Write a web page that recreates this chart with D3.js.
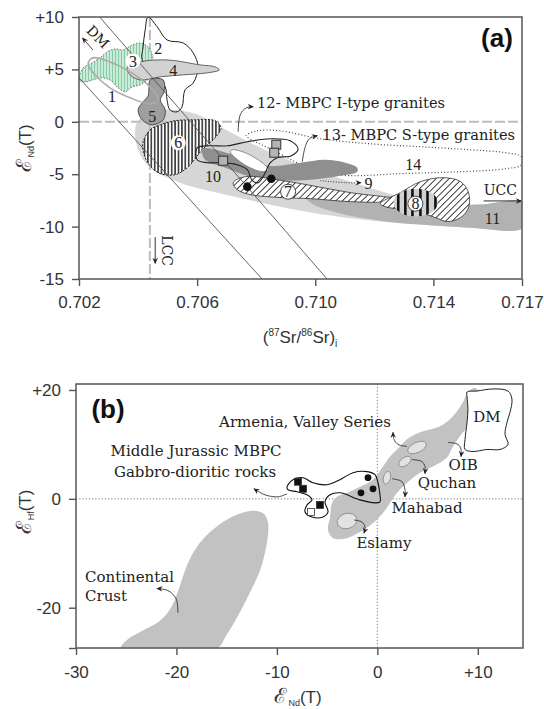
<!DOCTYPE html>
<html>
<head>
<meta charset="utf-8">
<script src="https://cdn.jsdelivr.net/npm/d3@7"></script>
<style>
  body { margin: 0; background: #fff; }
  svg { display: block; }
</style>
</head>
<body>
<svg id="chart" width="544" height="709"></svg>
<script>
// ---------------- Panel (a): εNd(T) vs initial 87Sr/86Sr ----------------
const srTicks = [0.702, 0.706, 0.710, 0.714, 0.717];
const ndTicksA = [10, 5, 0, -5, -10, -15];
const bulkEarthSr = 0.7044;
const mantleLines = [
  [[0.7027, 10], [0.7104, -15]],
  [[0.7020, 4.2], [0.7082, -15]]
];

const greenField = [[0.7020,4.19],[0.70214,5.14],[0.70244,5.62],[0.70271,6.10],[0.70295,6.67],[0.70322,6.95],[0.70349,6.86],[0.70380,7.33],[0.70407,7.52],[0.70434,7.14],[0.70448,6.38],[0.70451,5.43],[0.70441,4.29],[0.70407,3.52],[0.70380,3.33],[0.70356,2.86],[0.70332,3.24],[0.70305,4.0],[0.70271,4.19],[0.70247,4.0],[0.70220,3.81],[0.7020,4.0]];
const field1 = [[0.70247,6.10],[0.70305,5.71],[0.70373,4.76],[0.70441,3.33],[0.70468,2.10],[0.70441,1.71],[0.70373,2.29],[0.70305,3.24],[0.70254,4.48],[0.70231,5.52]];
const field2 = [[0.70434,10.0],[0.70465,9.05],[0.70498,7.81],[0.70553,7.52],[0.70587,6.57],[0.70603,5.24],[0.70587,3.71],[0.70559,3.05],[0.70549,1.43],[0.70532,0.95],[0.70508,1.14],[0.70498,2.10],[0.70492,3.33],[0.70458,4.48],[0.70414,5.90],[0.70417,7.14],[0.70424,8.76]];
const field4 = [[0.70363,5.14],[0.70407,5.71],[0.70498,5.90],[0.70610,5.43],[0.70661,5.24],[0.70675,4.95],[0.70634,4.67],[0.70553,4.48],[0.70475,4.29],[0.70407,4.0],[0.70373,4.48]];
const field5 = [[0.70441,4.0],[0.70485,4.0],[0.70488,2.86],[0.70475,2.10],[0.70492,1.14],[0.70485,0.19],[0.70448,-0.29],[0.70414,0.19],[0.70400,1.14],[0.70417,1.90],[0.70434,2.48],[0.70437,3.24]];
const field6 = [[0.70417,-1.90],[0.70441,-0.76],[0.70475,-0.29],[0.70525,0.10],[0.70593,0.19],[0.70661,0.10],[0.70681,-0.57],[0.70661,-1.52],[0.70617,-2.67],[0.70570,-4.29],[0.70525,-5.05],[0.70468,-4.86],[0.70431,-3.81],[0.70417,-2.67]];
const field7 = [[0.70722,-5.81],[0.70763,-5.24],[0.70891,-5.62],[0.71007,-6.19],[0.71119,-6.76],[0.71231,-7.14],[0.71281,-7.33],[0.71244,-7.62],[0.71119,-7.62],[0.70983,-7.33],[0.70891,-7.24],[0.70780,-6.95],[0.70736,-6.48]];
const field8 = [[0.71220,-7.81],[0.71288,-6.76],[0.71356,-5.71],[0.71434,-5.33],[0.71492,-5.71],[0.71519,-6.76],[0.71519,-8.19],[0.71492,-9.14],[0.71448,-9.52],[0.71407,-9.14],[0.71356,-8.67],[0.71298,-8.38],[0.71237,-8.10]];
const field8Core = { x: 0.7134, y: -7.71, rx: 0.00075, ry: 1.33 };
const field8Bars = [0.71281, 0.71305, 0.71329, 0.71356, 0.71380, 0.71407];
const field10 = [[0.70617,-2.57],[0.70746,-3.33],[0.70841,-4.19],[0.70949,-3.90],[0.71034,-3.62],[0.71102,-3.90],[0.71142,-4.38],[0.71142,-4.76],[0.71085,-5.14],[0.70983,-5.52],[0.70881,-5.62],[0.70780,-5.24],[0.70695,-4.38],[0.70627,-3.62]];
const field10Lens = [[0.70719,-2.67],[0.70763,-2.95],[0.70820,-3.90],[0.70841,-4.57],[0.70820,-4.76],[0.70773,-4.29],[0.70729,-3.43],[0.70712,-2.86]];
const field11 = [[0.70393,-0.29],[0.70424,0.67],[0.70492,1.14],[0.70593,0.76],[0.70685,-0.57],[0.70780,-2.0],[0.70881,-3.33],[0.71017,-4.76],[0.71153,-6.0],[0.71288,-7.14],[0.71424,-7.81],[0.71559,-7.90],[0.71705,-7.71],[0.71705,-10.1],[0.71525,-10.1],[0.71356,-9.81],[0.71220,-9.52],[0.71051,-8.95],[0.70881,-8.10],[0.70712,-7.05],[0.70542,-5.81],[0.70441,-4.38],[0.70400,-2.67]];
const field11Core = [[0.70949,-6.48],[0.71085,-7.24],[0.71254,-7.90],[0.71424,-8.10],[0.71559,-7.90],[0.71705,-7.71],[0.71705,-10.1],[0.71525,-10.1],[0.71356,-9.81],[0.71220,-9.43],[0.71085,-8.76],[0.70983,-7.71]];
const field12 = [[0.70600,-2.48],[0.70644,-2.29],[0.70702,-2.29],[0.70770,-1.90],[0.70848,-1.62],[0.70915,-1.81],[0.70942,-2.57],[0.70919,-3.24],[0.70871,-3.43],[0.70848,-3.90],[0.70827,-5.05],[0.70807,-5.81],[0.70787,-5.62],[0.70770,-4.57],[0.70736,-4.10],[0.70688,-3.90],[0.70634,-3.90],[0.70600,-3.62]];
const field14 = [[0.70766,-1.33],[0.70803,-0.86],[0.70881,-0.86],[0.71017,-1.62],[0.71186,-2.10],[0.71356,-2.38],[0.71525,-2.67],[0.71644,-2.95],[0.71698,-3.33],[0.71698,-4.10],[0.71644,-4.48],[0.71492,-4.76],[0.71288,-4.95],[0.71119,-5.14],[0.71017,-4.86],[0.70932,-3.81],[0.70854,-2.67],[0.70797,-1.90]];

const squaresA = [[0.70688,-3.71],[0.70868,-2.19],[0.70861,-2.95]];
const dotsA = [[0.70770,-6.19],[0.70851,-5.43]];

const labelsA = [
  { t: "1", x: 0.70312, y: 2.38, ring: 0 },
  { t: "2", x: 0.70468, y: 7.05, ring: 0 },
  { t: "3", x: 0.70383, y: 5.81, ring: 1 },
  { t: "4", x: 0.70519, y: 4.86, ring: 0 },
  { t: "5", x: 0.70448, y: 0.48, ring: 0 },
  { t: "6", x: 0.70536, y: -2.0, ring: 1 },
  { t: "7", x: 0.70908, y: -6.67, ring: 2 },
  { t: "8", x: 0.71339, y: -7.81, ring: 2 },
  { t: "10", x: 0.70654, y: -5.24, ring: 0 },
  { t: "11", x: 0.71600, y: -9.24, ring: 0 },
  { t: "14", x: 0.71332, y: -4.10, ring: 0 },
  { t: "9", x: 0.71180, y: -5.90, ring: 0 }
];
const notesA = [
  { t: "12- MBPC I-type granites", x: 0.70803, y: 1.33 },
  { t: "13- MBPC S-type granites", x: 0.71024, y: -1.71 }
];
const arrowsA = [
  [[0.70739,-0.95],[0.70746,0.67],[0.70766,1.33],[0.70790,1.43]],
  [[0.70956,-3.81],[0.70966,-2.38],[0.70980,-1.62],[0.71007,-1.33]]
];
const arrow9 = [[0.71017,-5.62],[0.71102,-5.81],[0.71155,-5.81]];

// ---------------- Panel (b): εHf(T) vs εNd(T) ----------------
const ndTicksB = [-30, -20, -10, 0, 10];
const hfTicksB = [20, 0, -20, -27.4];

const mantleArray = [[9.72,20.37],[10.22,19.26],[9.92,15.19],[8.53,12.22],[7.53,9.63],[6.93,7.59],[5.54,5.93],[4.25,4.81],[2.95,2.96],[1.96,1.11],[1.26,-0.74],[0.56,-2.59],[-0.43,-4.44],[-1.73,-6.11],[-3.02,-7.22],[-4.42,-7.22],[-4.91,-5.74],[-4.71,-3.33],[-4.51,-0.74],[-4.02,0.37],[-3.02,1.11],[-1.73,2.22],[-0.43,3.52],[0.56,5.93],[1.26,7.78],[2.26,9.63],[2.95,10.93],[4.25,12.22],[6.24,13.33],[7.53,15.19],[8.53,17.78],[9.02,19.63]];
const dmField = [[8.93,19.63],[9.92,19.81],[11.51,20.19],[13.01,19.81],[13.40,18.33],[13.21,15.93],[12.91,14.07],[12.71,11.85],[13.01,10.0],[12.21,9.07],[10.92,9.07],[9.52,8.70],[8.73,9.07],[8.73,10.93],[8.93,14.07],[9.02,16.48],[8.93,18.70]];
const crustField = [[-11.98,-2.22],[-11.28,-2.78],[-10.89,-4.26],[-10.89,-6.67],[-11.18,-9.81],[-11.68,-13.15],[-12.68,-17.22],[-13.87,-21.48],[-15.07,-25.19],[-15.96,-27.4],[-25.52,-27.4],[-24.82,-25.74],[-23.43,-24.26],[-21.64,-22.41],[-20.44,-19.63],[-19.65,-15.93],[-18.95,-12.22],[-18.05,-9.07],[-16.66,-6.11],[-14.87,-3.70],[-13.18,-2.41]];
const mbpcField = [[-8.99,2.22],[-8.40,3.52],[-7.40,3.89],[-6.41,2.96],[-5.01,2.59],[-3.72,3.52],[-2.42,4.81],[-1.03,5.0],[-0.23,4.44],[0.06,2.96],[0.26,0.74],[0.26,-0.56],[-0.23,-0.74],[-1.73,-0.19],[-3.72,1.11],[-4.71,0.74],[-5.21,-0.56],[-4.91,-2.41],[-5.41,-3.33],[-6.51,-3.33],[-7.20,-2.41],[-7.00,-1.11],[-6.51,-0.19],[-7.00,0.74],[-8.0,1.30],[-8.89,1.67]];
const localFields = [
  { name: "Armenia", x: 3.95, y: 9.44, rx: 1.0, ry: 0.93, rot: -25 },
  { name: "Quchan", x: 2.75, y: 6.85, rx: 0.7, ry: 0.74, rot: -35 },
  { name: "Mahabad", x: 0.96, y: 3.89, rx: 0.35, ry: 1.2, rot: 15 },
  { name: "Eslamy", x: -3.02, y: -4.07, rx: 1.0, ry: 1.39, rot: -15 }
];
const squaresB = [
  { x: -7.90, y: 3.15, open: false },
  { x: -7.40, y: 1.85, open: false },
  { x: -5.71, y: -1.11, open: false },
  { x: -6.61, y: -2.41, open: true }
];
const dotsB = [[-0.93,3.89],[-0.43,1.85],[-1.63,1.11]];
const notesB = [
  { t: "Armenia, Valley Series", x: -7.20, y: 13.15, anchor: "middle" },
  { t: "OIB", x: 8.53, y: 5.37, anchor: "middle" },
  { t: "Quchan", x: 6.93, y: 2.04, anchor: "middle" },
  { t: "Mahabad", x: 4.94, y: -2.59, anchor: "middle" },
  { t: "Eslamy", x: 0.66, y: -9.07, anchor: "middle" },
  { t: "Middle Jurassic MBPC", x: -18.05, y: 7.96, anchor: "middle" },
  { t: "Gabbro-dioritic rocks", x: -18.15, y: 4.07, anchor: "middle" },
  { t: "Continental", x: -29.10, y: -15.19, anchor: "start" },
  { t: "Crust", x: -29.10, y: -18.70, anchor: "start" },
  { t: "DM", x: 10.92, y: 14.07, anchor: "middle" }
];
const arrowsB = [
  [[2.95,9.63],[2.06,10.0],[1.66,10.93],[1.56,12.22]],
  [[7.03,10.37],[8.03,10.0],[8.33,9.07],[8.33,7.78]],
  [[3.45,7.22],[4.44,6.85],[4.74,5.93],[4.74,4.63]],
  [[1.46,3.70],[2.45,3.15],[2.75,1.67],[2.75,0.37]],
  [[-2.32,-3.89],[-1.53,-4.26],[-1.23,-5.19],[-1.33,-6.30]],
  [[-8.99,0.93],[-9.89,0.37],[-11.18,0.74],[-12.28,1.85]],
  [[-19.85,-20.93],[-20.04,-18.33],[-20.84,-16.85],[-21.94,-16.48]]
];

// ---------------- Drawing ----------------
const svg = d3.select("#chart");
const TICK_FONT = "'Liberation Sans', Arial, sans-serif";
const NOTE_FONT = "'DejaVu Serif', serif";
const NUM_FONT = "'Liberation Serif', serif";
const INK = "#333";

const xA = d3.scaleLinear().domain([0.702, 0.717]).range([79, 522]);
const yA = d3.scaleLinear().domain([-15, 10]).range([279, 17]);
const xB = d3.scaleLinear().domain([-30, 14.5]).range([76, 523]);
const yB = d3.scaleLinear().domain([-27.4, 21.1]).range([648, 384]);

const defs = svg.append("defs");

function stripes(id, w, bg, stroke, sw, angle) {
  const p = defs.append("pattern").attr("id", id)
    .attr("patternUnits", "userSpaceOnUse")
    .attr("width", w).attr("height", 10);
  if (angle) p.attr("patternTransform", `rotate(${angle})`);
  p.append("rect").attr("width", w).attr("height", 10).attr("fill", bg);
  p.append("line").attr("x1", w / 2).attr("x2", w / 2).attr("y1", -1).attr("y2", 11)
    .attr("stroke", stroke).attr("stroke-width", sw);
}
stripes("vstripe", 3.4, "#fff", "#1a1a1a", 1.4, 0);
stripes("greenstripe", 3, "#cdeedb", "#86cba4", 1.1, 0);
stripes("diag", 4.6, "#fff", "#222", 0.9, 45);

defs.append("marker").attr("id", "arrow")
  .attr("viewBox", "0 0 10 10").attr("refX", 8).attr("refY", 5)
  .attr("markerUnits", "userSpaceOnUse").attr("markerWidth", 7).attr("markerHeight", 7)
  .attr("orient", "auto")
  .append("path").attr("d", "M0,1 L9,5 L0,9 L3,5 z").attr("fill", "#222");

defs.append("clipPath").attr("id", "clipA").append("rect")
  .attr("x", 79).attr("y", 17).attr("width", 443).attr("height", 262);
defs.append("clipPath").attr("id", "clipB").append("rect")
  .attr("x", 76).attr("y", 384).attr("width", 447).attr("height", 264);

const signed = d => d > 0 ? "+" + d : String(d);

function closedPath(sx, sy, curve) {
  return d3.line().x(d => sx(d[0])).y(d => sy(d[1]))
    .curve(curve || d3.curveCatmullRomClosed.alpha(0.5));
}
function openPath(sx, sy) {
  return d3.line().x(d => sx(d[0])).y(d => sy(d[1])).curve(d3.curveCatmullRom.alpha(0.5));
}

// ===== Panel (a) =====
const gA = svg.append("g");
const plotA = gA.append("g").attr("clip-path", "url(#clipA)");
const shapeA = closedPath(xA, yA);

plotA.append("path").attr("d", shapeA(field11)).attr("fill", "#d6d6d6");
plotA.append("path").attr("d", shapeA(field11Core)).attr("fill", "#b2b2b2");

// reference lines: CHUR and bulk earth
plotA.append("line").attr("x1", xA(0.702)).attr("x2", xA(0.717)).attr("y1", yA(0)).attr("y2", yA(0))
  .attr("stroke", "#bdbdbd").attr("stroke-width", 2).attr("stroke-dasharray", "10 3");
plotA.append("line").attr("x1", xA(bulkEarthSr)).attr("x2", xA(bulkEarthSr)).attr("y1", yA(10)).attr("y2", yA(-15))
  .attr("stroke", "#bdbdbd").attr("stroke-width", 2).attr("stroke-dasharray", "10 3");

plotA.append("path").attr("d", shapeA(greenField)).attr("fill", "url(#greenstripe)")
  .attr("stroke", "#666").attr("stroke-width", 0.9).attr("stroke-dasharray", "1.5 1.5");
plotA.append("path").attr("d", shapeA(field2)).attr("fill", "none").attr("stroke", "#222").attr("stroke-width", 1);
plotA.append("path").attr("d", shapeA(field4)).attr("fill", "#d2d2d2").attr("stroke", "#555").attr("stroke-width", 0.9);
plotA.append("path").attr("d", shapeA(field5)).attr("fill", "#9e9e9e").attr("stroke", "#444").attr("stroke-width", 0.9);
plotA.append("path").attr("d", shapeA(field1)).attr("fill", "none").attr("stroke", "#aaa").attr("stroke-width", 1.6);
plotA.append("path").attr("d", shapeA(field6)).attr("fill", "url(#vstripe)")
  .attr("stroke", "#222").attr("stroke-width", 1).attr("stroke-dasharray", "2 1.5");
plotA.append("path").attr("d", shapeA(field14)).attr("fill", "none")
  .attr("stroke", "#444").attr("stroke-width", 1.2).attr("stroke-dasharray", "1 2.2");
plotA.append("path").attr("d", shapeA(field10)).attr("fill", "#8f8f8f");
plotA.append("path").attr("d", shapeA(field10Lens)).attr("fill", "#fff").attr("stroke", "#777").attr("stroke-width", 0.8);
plotA.append("path").attr("d", shapeA(field7)).attr("fill", "url(#diag)").attr("stroke", "#333").attr("stroke-width", 0.8);
plotA.append("path").attr("d", shapeA(field8)).attr("fill", "url(#diag)").attr("stroke", "#333").attr("stroke-width", 0.8);

// core of field 8: grey ellipse with heavy vertical bars
const c8 = {
  cx: xA(field8Core.x), cy: yA(field8Core.y),
  rx: xA(field8Core.x + field8Core.rx) - xA(field8Core.x),
  ry: yA(field8Core.y) - yA(field8Core.y + field8Core.ry)
};
defs.append("clipPath").attr("id", "clip8").append("ellipse")
  .attr("cx", c8.cx).attr("cy", c8.cy).attr("rx", c8.rx).attr("ry", c8.ry);
plotA.append("ellipse").attr("cx", c8.cx).attr("cy", c8.cy).attr("rx", c8.rx).attr("ry", c8.ry).attr("fill", "#d0d0d0");
plotA.append("g").attr("clip-path", "url(#clip8)").selectAll("line").data(field8Bars).join("line")
  .attr("x1", d => xA(d)).attr("x2", d => xA(d))
  .attr("y1", c8.cy - c8.ry).attr("y2", c8.cy + c8.ry)
  .attr("stroke", "#111").attr("stroke-width", 2.6);

plotA.append("path").attr("d", shapeA(field12)).attr("fill", "none").attr("stroke", "#222").attr("stroke-width", 1.1);

// mixing lines
mantleLines.forEach(l => {
  plotA.append("line").attr("x1", xA(l[0][0])).attr("y1", yA(l[0][1]))
    .attr("x2", xA(l[1][0])).attr("y2", yA(l[1][1]))
    .attr("stroke", "#555").attr("stroke-width", 0.9);
});

// samples
plotA.selectAll("rect.sq").data(squaresA).join("rect").attr("class", "sq")
  .attr("x", d => xA(d[0]) - 4.5).attr("y", d => yA(d[1]) - 4.5).attr("width", 9).attr("height", 9)
  .attr("fill", "#b4b4b4").attr("stroke", "#333").attr("stroke-width", 1);
plotA.selectAll("circle.dot").data(dotsA).join("circle").attr("class", "dot")
  .attr("cx", d => xA(d[0])).attr("cy", d => yA(d[1])).attr("r", 4.3).attr("fill", "#111");

// field numbers
labelsA.forEach(d => {
  const px = xA(d.x), py = yA(d.y);
  if (d.ring) {
    gA.append("circle").attr("cx", px).attr("cy", py).attr("r", 7.5)
      .attr("fill", "#fff").attr("stroke", d.ring === 2 ? "#333" : "none").attr("stroke-width", 0.9);
  }
  gA.append("text").attr("x", px).attr("y", py).attr("dy", "0.35em")
    .attr("text-anchor", "middle").attr("font-family", NUM_FONT).attr("font-size", 16)
    .attr("fill", "#222").text(d.t);
});

// annotations
notesA.forEach(d => {
  gA.append("text").attr("x", xA(d.x)).attr("y", yA(d.y))
    .attr("font-family", NOTE_FONT).attr("font-size", 14.6).attr("fill", "#222").text(d.t);
});
arrowsA.forEach(a => {
  gA.append("path").attr("d", openPath(xA, yA)(a)).attr("fill", "none")
    .attr("stroke", "#333").attr("stroke-width", 0.9).attr("marker-end", "url(#arrow)");
});
gA.append("path").attr("d", openPath(xA, yA)(arrow9)).attr("fill", "none")
  .attr("stroke", "#333").attr("stroke-width", 1).attr("stroke-dasharray", "1 1.6").attr("marker-end", "url(#arrow)");

// DM arrow and label
gA.append("line").attr("x1", xA(0.70247)).attr("y1", yA(6.86)).attr("x2", xA(0.70212)).attr("y2", yA(8.0))
  .attr("stroke", "#333").attr("stroke-width", 0.9).attr("marker-end", "url(#arrow)");
gA.append("text").attr("transform", `translate(${xA(0.70264)},${yA(8.1)}) rotate(45)`)
  .attr("text-anchor", "middle").attr("dy", "0.35em").attr("font-family", NOTE_FONT)
  .attr("font-size", 14).attr("fill", "#222").text("DM");

// LCC label with downward arrow
gA.append("line").attr("x1", xA(0.70458)).attr("x2", xA(0.70458)).attr("y1", yA(-11.0)).attr("y2", yA(-13.5))
  .attr("stroke", "#333").attr("stroke-width", 1).attr("marker-end", "url(#arrow)");
gA.append("text").attr("transform", `translate(${xA(0.70498)},${yA(-12.3)}) rotate(90)`)
  .attr("text-anchor", "middle").attr("dy", "0.35em").attr("font-family", NOTE_FONT)
  .attr("font-size", 14).attr("fill", "#222").text("LCC");

// UCC label with rightward arrow
gA.append("text").attr("x", xA(0.71627)).attr("y", yA(-7.0)).attr("text-anchor", "middle")
  .attr("font-family", NOTE_FONT).attr("font-size", 14).attr("fill", "#222").text("UCC");
gA.append("line").attr("x1", xA(0.7157)).attr("x2", xA(0.71698)).attr("y1", yA(-7.55)).attr("y2", yA(-7.55))
  .attr("stroke", "#333").attr("stroke-width", 1).attr("marker-end", "url(#arrow)");

// frame and axes
gA.append("rect").attr("x", 79).attr("y", 17).attr("width", 443).attr("height", 262)
  .attr("fill", "none").attr("stroke", "#555").attr("stroke-width", 1.5);
const axAx = gA.append("g").attr("transform", "translate(0,279)")
  .call(d3.axisBottom(xA).tickValues(srTicks).tickSize(7).tickPadding(10).tickFormat(d3.format(".3f")));
const axAy = gA.append("g").attr("transform", "translate(79,0)")
  .call(d3.axisLeft(yA).tickValues(ndTicksA).tickSize(7).tickPadding(8).tickFormat(signed));
[axAx, axAy].forEach(ax => {
  ax.select(".domain").remove();
  ax.selectAll("line").attr("stroke", "#555").attr("stroke-width", 1.4);
  ax.selectAll("text").attr("font-family", TICK_FONT).attr("font-size", 17).attr("fill", INK);
});

gA.append("text").attr("x", 497).attr("y", 47).attr("text-anchor", "middle")
  .attr("font-family", TICK_FONT).attr("font-weight", "bold").attr("font-size", 26).attr("fill", "#111").text("(a)");

// axis titles (a)
const tA = gA.append("text").attr("x", 300).attr("y", 343).attr("text-anchor", "middle")
  .attr("font-family", TICK_FONT).attr("font-size", 17).attr("fill", INK);
tA.append("tspan").text("(");
tA.append("tspan").attr("font-size", 10).attr("dy", -7).text("87");
tA.append("tspan").attr("dy", 7).text("Sr/");
tA.append("tspan").attr("font-size", 10).attr("dy", -7).text("86");
tA.append("tspan").attr("dy", 7).text("Sr)");
tA.append("tspan").attr("font-size", 10).attr("dy", 4).text("i");

function epsTitle(g, x, y, sub, rotate) {
  const t = g.append("text").attr("text-anchor", "middle").attr("fill", INK)
    .attr("font-family", TICK_FONT).attr("font-size", 17)
    .attr("transform", `translate(${x},${y})` + (rotate ? " rotate(-90)" : ""));
  t.append("tspan").attr("font-family", NOTE_FONT).attr("font-size", 21).text("\u2130");
  t.append("tspan").attr("font-size", 9).attr("dy", 3).attr("dx", 1).text(sub);
  t.append("tspan").attr("dy", -3).text("(T)");
}
epsTitle(gA, 31, 148, "Nd", true);

// ===== Panel (b) =====
const gB = svg.append("g");
const plotB = gB.append("g").attr("clip-path", "url(#clipB)");
const shapeB = closedPath(xB, yB);

plotB.append("path").attr("d", shapeB(crustField)).attr("fill", "#c2c2c2");
plotB.append("line").attr("x1", xB(0)).attr("x2", xB(0)).attr("y1", yB(21.1)).attr("y2", yB(-27.4))
  .attr("stroke", "#777").attr("stroke-width", 1).attr("stroke-dasharray", "1.2 2");
plotB.append("line").attr("x1", xB(-30)).attr("x2", xB(14.5)).attr("y1", yB(0)).attr("y2", yB(0))
  .attr("stroke", "#777").attr("stroke-width", 1).attr("stroke-dasharray", "1.2 2");
plotB.append("path").attr("d", shapeB(mantleArray)).attr("fill", "#c2c2c2");
plotB.append("path").attr("d", shapeB(dmField)).attr("fill", "#fff").attr("stroke", "#222").attr("stroke-width", 1);

localFields.forEach(f => {
  const cx = xB(f.x), cy = yB(f.y);
  plotB.append("ellipse").attr("cx", 0).attr("cy", 0)
    .attr("rx", xB(f.x + f.rx) - cx).attr("ry", cy - yB(f.y + f.ry))
    .attr("transform", `translate(${cx},${cy}) rotate(${f.rot})`)
    .attr("fill", "#e2e2e2").attr("stroke", "#888").attr("stroke-width", 0.8);
});

plotB.append("path").attr("d", shapeB(mbpcField)).attr("fill", "none").attr("stroke", "#111").attr("stroke-width", 1.1);
plotB.selectAll("rect.sq").data(squaresB).join("rect").attr("class", "sq")
  .attr("x", d => xB(d.x) - 3.5).attr("y", d => yB(d.y) - 3.5).attr("width", 7).attr("height", 7)
  .attr("fill", d => d.open ? "#fff" : "#111").attr("stroke", "#333").attr("stroke-width", 0.8);
plotB.selectAll("circle.dot").data(dotsB).join("circle").attr("class", "dot")
  .attr("cx", d => xB(d[0])).attr("cy", d => yB(d[1])).attr("r", 3.4).attr("fill", "#111");

arrowsB.forEach(a => {
  gB.append("path").attr("d", openPath(xB, yB)(a)).attr("fill", "none")
    .attr("stroke", "#333").attr("stroke-width", 0.9).attr("marker-end", "url(#arrow)");
});
notesB.forEach(d => {
  gB.append("text").attr("x", xB(d.x)).attr("y", yB(d.y)).attr("text-anchor", d.anchor)
    .attr("font-family", NOTE_FONT).attr("font-size", 15).attr("fill", "#222").text(d.t);
});

gB.append("rect").attr("x", 76).attr("y", 384).attr("width", 447).attr("height", 264)
  .attr("fill", "none").attr("stroke", "#555").attr("stroke-width", 1.5);
const axBx = gB.append("g").attr("transform", "translate(0,648)")
  .call(d3.axisBottom(xB).tickValues(ndTicksB).tickSize(7).tickPadding(11).tickFormat(signed));
const axBy = gB.append("g").attr("transform", "translate(76,0)")
  .call(d3.axisLeft(yB).tickValues(hfTicksB).tickSize(7).tickPadding(8)
    .tickFormat(d => Number.isInteger(d) ? signed(d) : ""));
[axBx, axBy].forEach(ax => {
  ax.select(".domain").remove();
  ax.selectAll("line").attr("stroke", "#555").attr("stroke-width", 1.4);
  ax.selectAll("text").attr("font-family", TICK_FONT).attr("font-size", 17).attr("fill", INK);
});

gB.append("text").attr("x", 108).attr("y", 418).attr("text-anchor", "middle")
  .attr("font-family", TICK_FONT).attr("font-weight", "bold").attr("font-size", 26).attr("fill", "#111").text("(b)");

epsTitle(gB, 31, 512, "Hf", true);
epsTitle(gB, 298, 703, "Nd", false);
</script>
</body>
</html>
